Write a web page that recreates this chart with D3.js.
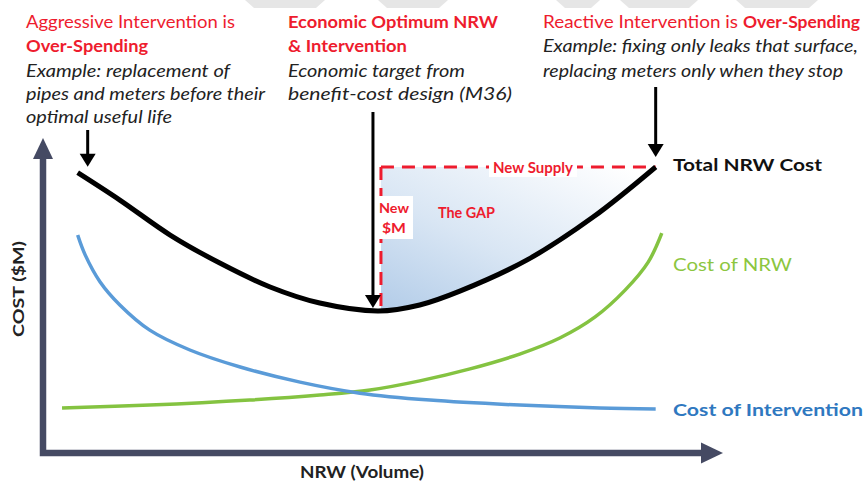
<!DOCTYPE html>
<html>
<head>
<meta charset="utf-8">
<script src="https://cdn.jsdelivr.net/npm/d3@7"></script>
<style>
  body { margin: 0; background: #fff; }
  svg { display: block; font-family: Lato, "Open Sans", sans-serif; }
</style>
</head>
<body>
<svg id="vis" width="863" height="485"></svg>
<script>
// x = NRW volume, y = cost (both 0-100)
const totalCost = [[5.1, 89], [11.3, 80.3], [18.7, 69.2], [26, 60.3], [33.4, 52.7], [40.7, 47.6],
  [49.3, 45.1], [55.4, 47], [61.3, 51.4], [71.2, 61.3], [80.9, 74.9], [90.1, 90.8]];
const interventionCost = [[5.1, 69.2], [6.2, 62.9], [8.4, 54.3], [11.3, 47], [15.7, 39], [21.6, 32.7],
  [29, 27.3], [37.8, 22.5], [46.6, 19], [56.9, 16.8], [70.1, 15.2], [81.9, 14.3], [90.1, 14]];
const nrwCost = [[2.8, 14.3], [15.7, 15.2], [30.4, 16.8], [40.7, 18.4], [48.1, 20], [55.4, 22.9],
  [62.8, 26.7], [70.1, 31.4], [76, 36.5], [81.2, 43.2], [85.6, 51.7], [89, 60.6], [91, 69.8]];
const optimumX = 49.7;
const newSupplyLevel = 90.8;

const seriesLabels = ['Total NRW Cost', 'Cost of NRW', 'Cost of Intervention'];
const axisLabels = ['NRW (Volume)', 'COST ($M)'];

const red = '#ee1c2e';
const axisColor = '#454a63';

const svg = d3.select('#vis');
const x = d3.scaleLinear().domain([0, 100]).range([43, 723]);
const y = d3.scaleLinear().domain([0, 100]).range([453, 138]);
const curve = d3.curveCatmullRom.alpha(0.5);
const line = d3.line().x(d => x(d[0])).y(d => y(d[1])).curve(curve);

// faint watermark chevrons along the top edge
[[245, 325], [378, 448], [556, 600], [620, 698], [736, 818]].forEach(([a, b]) => {
  svg.append('path')
    .attr('d', `M${a},0L${b},0L${b - 9},8L${a + 9},8Z`)
    .attr('fill', '#e6e6e6');
});

// gradient for the gap area
const defs = svg.append('defs');
const grad = defs.append('linearGradient').attr('id', 'gapGradient')
  .attr('x1', 0).attr('y1', 1).attr('x2', 0.9).attr('y2', 0);
grad.append('stop').attr('offset', '0%').attr('stop-color', '#b1cbe8');
grad.append('stop').attr('offset', '45%').attr('stop-color', '#d9e6f4');
grad.append('stop').attr('offset', '100%').attr('stop-color', '#ffffff');

const gapArea = d3.area().x(d => x(d[0])).y0(y(newSupplyLevel)).y1(d => y(d[1])).curve(curve);
defs.append('clipPath').attr('id', 'gapClip')
  .append('path').attr('d', gapArea(totalCost));

const minCost = d3.min(totalCost, d => d[1]);
const last = totalCost[totalCost.length - 1];

svg.append('rect')
  .attr('x', x(optimumX)).attr('y', y(newSupplyLevel))
  .attr('width', x(last[0]) - x(optimumX))
  .attr('height', y(minCost) - y(newSupplyLevel) + 4)
  .attr('fill', 'url(#gapGradient)')
  .attr('clip-path', 'url(#gapClip)');

// dashed red lines
svg.append('line')
  .attr('x1', x(optimumX)).attr('x2', x(last[0]))
  .attr('y1', y(newSupplyLevel)).attr('y2', y(newSupplyLevel))
  .attr('stroke', red).attr('stroke-width', 3).attr('stroke-dasharray', '13,8');
svg.append('line')
  .attr('x1', x(optimumX)).attr('x2', x(optimumX))
  .attr('y1', y(newSupplyLevel)).attr('y2', y(minCost))
  .attr('stroke', red).attr('stroke-width', 3).attr('stroke-dasharray', '13,8');

// white boxes behind the red labels
svg.append('rect').attr('x', 489).attr('y', 158).attr('width', 88).attr('height', 19).attr('fill', '#fff');
svg.append('rect').attr('x', 375).attr('y', 196).attr('width', 38).attr('height', 43).attr('fill', '#fff');

function label(px, py, str, o = {}) {
  const t = svg.append('text')
    .attr('x', px).attr('y', py)
    .attr('font-size', o.size || 17)
    .attr('font-weight', o.bold ? 'bold' : 'normal')
    .attr('font-style', o.italic ? 'italic' : 'normal')
    .attr('fill', o.color || '#222')
    .attr('text-anchor', o.anchor || 'start')
    .text(str);
  if (o.w) t.attr('textLength', o.w).attr('lengthAdjust', 'spacingAndGlyphs');
  if (o.rotate) t.attr('transform', `rotate(${o.rotate},${px},${py})`);
  return t;
}

label(533, 173, 'New Supply', { size: 14.5, bold: true, color: red, anchor: 'middle', w: 80 });
label(394, 213, 'New', { size: 14, bold: true, color: red, anchor: 'middle', w: 30 });
label(394, 233, '$M', { size: 14, bold: true, color: red, anchor: 'middle', w: 24 });
label(438, 218, 'The GAP', { size: 14.5, bold: true, color: red, w: 57 });

// curves
svg.append('path').attr('d', line(nrwCost))
  .attr('fill', 'none').attr('stroke', '#84c341').attr('stroke-width', 3.5);
svg.append('path').attr('d', line(interventionCost))
  .attr('fill', 'none').attr('stroke', '#5a9bd8').attr('stroke-width', 3.5);
svg.append('path').attr('d', line(totalCost))
  .attr('fill', 'none').attr('stroke', '#000').attr('stroke-width', 5);

// axes with arrow heads
svg.append('path')
  .attr('d', `M${x(0)},${y(0) - 295}L${x(0)},${y(0)}L${x(100) - 18},${y(0)}`)
  .attr('fill', 'none').attr('stroke', axisColor).attr('stroke-width', 6.5)
  .attr('stroke-linejoin', 'miter');
svg.append('path')
  .attr('d', `M${x(0) - 10},${y(100) + 21}L${x(0)},${y(100)}L${x(0) + 10},${y(100) + 21}Z`)
  .attr('fill', axisColor);
svg.append('path')
  .attr('d', `M${x(100) - 22},${y(0) - 10.5}L${x(100)},${y(0)}L${x(100) - 22},${y(0) + 10.5}Z`)
  .attr('fill', axisColor);

label(362, 478, axisLabels[0], { size: 17, bold: true, anchor: 'middle', w: 124 });
label(24, 289, axisLabels[1], { size: 15, bold: true, anchor: 'middle', rotate: -90, w: 96 });

// black pointer arrows
function pointer(px, y1, y2) {
  svg.append('line').attr('x1', px).attr('x2', px).attr('y1', y1).attr('y2', y2 - 10)
    .attr('stroke', '#000').attr('stroke-width', 3);
  svg.append('path').attr('d', `M${px - 8},${y2 - 13}L${px + 8},${y2 - 13}L${px},${y2}Z`).attr('fill', '#000');
}
pointer(x(totalCost[0][0]) + 10, 130, y(totalCost[0][1]) - 6);
pointer(x(optimumX) - 8, 112, y(minCost) - 3);
pointer(x(last[0]), 87, y(last[1]) - 10);

// series labels
label(673, 171, seriesLabels[0], { size: 17, bold: true, color: '#111', w: 149 });
label(673, 271, seriesLabels[1], { size: 17, color: '#8cc63f', w: 119 });
label(673, 416, seriesLabels[2], { size: 17.5, bold: true, color: '#2f78c0', w: 190 });

// annotation blocks
label(26, 28, 'Aggressive Intervention is', { color: red, w: 209 });
label(26, 52, 'Over-Spending', { color: red, bold: true, w: 122 });
label(26, 77, 'Example: replacement of', { italic: true, w: 204 });
label(26, 100, 'pipes and meters before their', { italic: true, w: 239 });
label(26, 123, 'optimal useful life', { italic: true, w: 146 });

label(288, 28, 'Economic Optimum NRW', { color: red, bold: true, w: 210 });
label(288, 52, '& Intervention', { color: red, bold: true, w: 119 });
label(288, 77, 'Economic target from', { italic: true, w: 177 });
label(288, 100, 'benefit-cost design (M36)', { italic: true, w: 224 });

label(543, 28, 'Reactive Intervention is', { color: red, w: 195 });
label(743, 28, 'Over-Spending', { color: red, bold: true, w: 117 });
label(543, 52, 'Example: fixing only leaks that surface,', { italic: true, w: 315 });
label(543, 77, 'replacing meters only when they stop', { italic: true, w: 300 });
</script>
</body>
</html>
